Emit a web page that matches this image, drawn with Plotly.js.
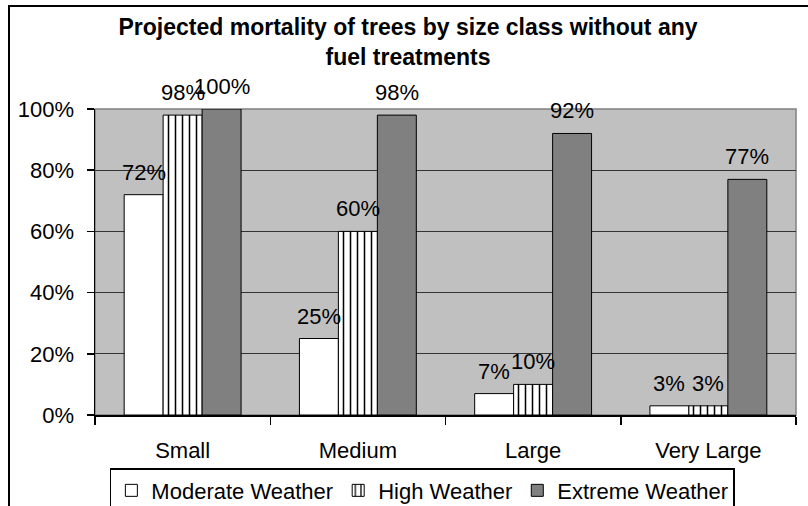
<!DOCTYPE html>
<html>
<head>
<meta charset="utf-8">
<script src="https://cdn.plot.ly/plotly-3.0.1.min.js"></script>
<style>html,body{margin:0;padding:0;background:#fff;}#chart{width:808px;height:506px;}</style>
</head>
<body>
<div id="chart"></div>
<script>
const categories = ["Small", "Medium", "Large", "Very Large"];
const seriesNames = ["Moderate Weather", "High Weather", "Extreme Weather"];
const moderate = [0.72, 0.25, 0.07, 0.03];
const high = [0.98, 0.60, 0.10, 0.03];
const extreme = [1.00, 0.98, 0.92, 0.77];
const yTickVals = [0, 0.2, 0.4, 0.6, 0.8, 1.0];
const yTickText = ["0%", "20%", "40%", "60%", "80%", "100%"];

const FONT = "Liberation Sans, Arial, sans-serif";
const seriesData = [moderate, high, extreme];
const bargap = 0.333;
const barW = (1 - bargap) / 3;

const traces = [
  {type: "bar", name: seriesNames[0], x: categories, y: moderate,
   marker: {color: "#ffffff", line: {color: "#000", width: 1}}},
  {type: "bar", name: seriesNames[1], x: categories, y: high,
   marker: {color: "#ffffff", line: {color: "#000", width: 1},
            pattern: {shape: "|", fgcolor: "#000", bgcolor: "#ffffff", size: 7, solidity: 0.22}}},
  {type: "bar", name: seriesNames[2], x: categories, y: extreme,
   marker: {color: "#808080", line: {color: "#000", width: 1}}}
];

const annotations = [];
seriesData.forEach((vals, j) => {
  vals.forEach((v, i) => {
    annotations.push({
      x: i + (j - 1) * barW, y: v, xref: "x", yref: "y",
      text: Math.round(v * 100) + "%", showarrow: false,
      yanchor: "bottom", xanchor: "center", yshift: 8,
      font: {family: FONT, size: 22, color: "#000"}
    });
  });
});

const layout = {
  width: 808, height: 506,
  margin: {l: 95, r: 12, t: 109, b: 91, pad: 0, autoexpand: false},
  paper_bgcolor: "#ffffff", plot_bgcolor: "#c0c0c0",
  font: {family: FONT, size: 22, color: "#000"},
  title: {
    text: "<b>Projected mortality of trees by size class without any<br>fuel treatments</b>",
    font: {family: FONT, size: 23, color: "#000"},
    x: 0.505, xanchor: "center", y: 0.93, yanchor: "top", automargin: false
  },
  barmode: "group", bargap: bargap, bargroupgap: 0,
  showlegend: true,
  legend: {
    orientation: "h", xref: "paper", x: 0.467, xanchor: "center",
    yref: "container", y: 0.075, yanchor: "top",
    bgcolor: "#ffffff", bordercolor: "#000", borderwidth: 1.5,
    font: {family: FONT, size: 22, color: "#000"},
    itemwidth: 30, traceorder: "normal"
  },
  xaxis: {
    type: "category", showline: true, linecolor: "#000", linewidth: 1.5,
    ticks: "outside", tickson: "boundaries", ticklen: 8, tickcolor: "#000", tickwidth: 1.5,
    ticklabelstandoff: 15, showgrid: false, zeroline: false, automargin: false,
    tickfont: {family: FONT, size: 22, color: "#000"}
  },
  yaxis: {
    range: [0, 1], tickvals: yTickVals, ticktext: yTickText,
    showline: true, linecolor: "#000", linewidth: 1.5,
    ticks: "outside", ticklen: 7, tickcolor: "#000", tickwidth: 1.5,
    ticklabelstandoff: 8, automargin: false,
    showgrid: true, gridcolor: "#333", gridwidth: 1, zeroline: false,
    tickfont: {family: FONT, size: 22, color: "#000"}
  },
  annotations: annotations,
  shapes: [
    {type: "rect", xref: "paper", yref: "paper", x0: 0, x1: 1, y0: 0, y1: 1,
     line: {color: "#808080", width: 1.5}, layer: "below", fillcolor: "rgba(0,0,0,0)"},
    {type: "line", xref: "paper", yref: "paper", xsizemode: "pixel", ysizemode: "pixel",
     xanchor: 0, yanchor: 1, x0: -86, x1: -86, y0: 103, y1: -600,
     line: {color: "#000", width: 2}},
    {type: "line", xref: "paper", yref: "paper", xsizemode: "pixel", ysizemode: "pixel",
     xanchor: 0, yanchor: 1, x0: -87, x1: 800, y0: 103, y1: 103,
     line: {color: "#000", width: 2}}
  ]
};

Plotly.newPlot("chart", traces, layout, {displayModeBar: false, staticPlot: true});
</script>
</body>
</html>
